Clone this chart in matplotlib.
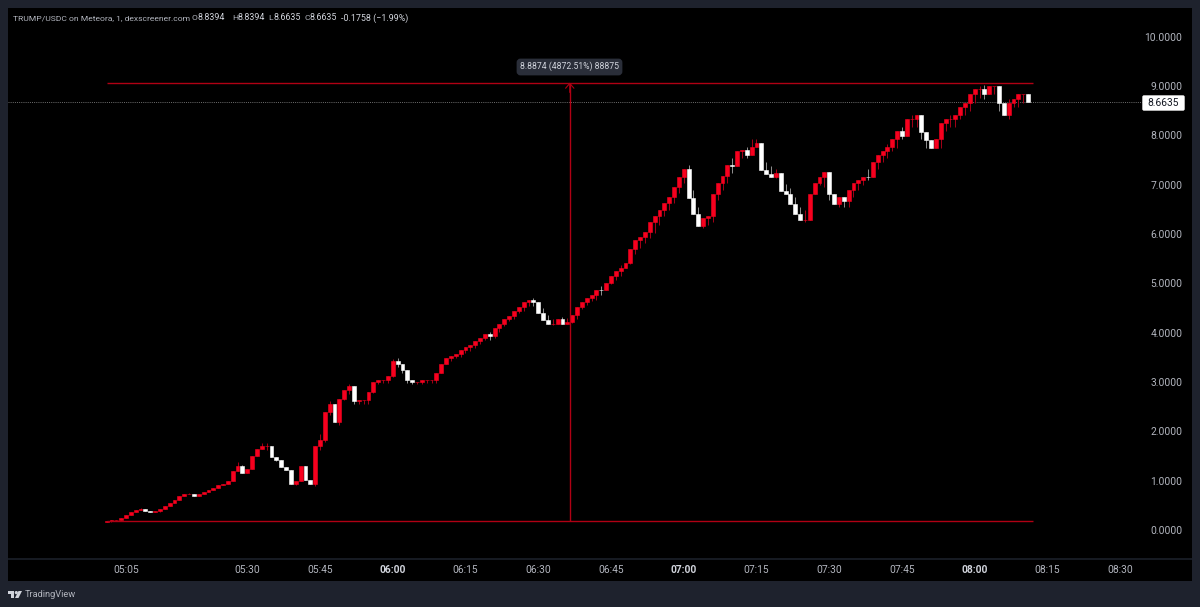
import matplotlib
matplotlib.use("Agg")
import matplotlib.pyplot as plt
from matplotlib.patches import Circle, FancyBboxPatch, Polygon, Rectangle

plt.rcParams['font.family'] = ['Roboto', 'DejaVu Sans']

first_minute = 5 * 60 + 1  # first candle is 05:01, one candle per minute

opens = [
    0.17, 0.175, 0.195, 0.21, 0.25, 0.30, 0.36, 0.41, 0.43, 0.39,
    0.37, 0.375, 0.425, 0.48, 0.54, 0.61, 0.68, 0.73, 0.735, 0.69,
    0.73, 0.775, 0.82, 0.855, 0.915, 0.935, 0.99, 1.20, 1.30, 1.16,
    1.24, 1.50, 1.64, 1.70, 1.71, 1.47, 1.42, 1.28, 1.21, 0.93,
    0.99, 1.30, 1.02, 0.93, 1.71, 1.83, 2.385, 2.56, 2.195, 2.66,
    2.83, 2.91, 2.61, 2.63, 2.63, 2.79, 3.0, 3.04, 3.045, 3.13,
    3.425, 3.36, 3.25, 3.03, 3.0, 3.005, 3.03, 3.035, 3.04, 3.19,
    3.36, 3.49, 3.53, 3.56, 3.64, 3.71, 3.74, 3.82, 3.90, 3.97,
    3.94, 4.09, 4.175, 4.27, 4.34, 4.44, 4.52, 4.61, 4.66, 4.61,
    4.39, 4.26, 4.17, 4.175, 4.27, 4.17, 4.22, 4.35, 4.52, 4.61,
    4.71, 4.755, 4.86, 4.855, 5.0, 5.15, 5.255, 5.315, 5.42, 5.69,
    5.875, 5.93, 6.045, 6.235, 6.36, 6.485, 6.62, 6.755, 6.95, 7.16,
    7.315, 6.735, 6.41, 6.17, 6.33, 6.36, 6.815, 7.025, 7.17, 7.39,
    7.385, 7.69, 7.695, 7.6, 7.76, 7.84, 7.30, 7.22, 7.15, 7.24,
    6.87, 6.80, 6.60, 6.40, 6.28, 6.285, 6.81, 7.025, 7.16, 7.25,
    6.80, 6.605, 6.755, 6.67, 6.88, 7.025, 7.09, 7.16, 7.155, 7.45,
    7.6, 7.68, 7.76, 7.915, 8.08, 7.99, 8.32, 8.325, 8.40, 8.065,
    7.91, 7.75, 7.915, 8.24, 8.32, 8.325, 8.40, 8.58, 8.66, 8.84,
    8.93, 8.935, 8.83, 9.0, 9.005, 8.66, 8.40, 8.66, 8.74, 8.83,
    8.8394,
]
closes = [
    0.175, 0.195, 0.21, 0.25, 0.30, 0.36, 0.41, 0.43, 0.39, 0.37,
    0.375, 0.425, 0.48, 0.54, 0.61, 0.68, 0.73, 0.735, 0.69, 0.73,
    0.775, 0.82, 0.855, 0.915, 0.935, 0.99, 1.20, 1.30, 1.16, 1.24,
    1.50, 1.64, 1.70, 1.71, 1.47, 1.42, 1.28, 1.21, 0.93, 0.99,
    1.30, 1.02, 0.93, 1.71, 1.83, 2.385, 2.56, 2.195, 2.66, 2.83,
    2.91, 2.61, 2.63, 2.635, 2.79, 3.0, 3.04, 3.045, 3.13, 3.425,
    3.36, 3.25, 3.03, 3.0, 3.005, 3.03, 3.035, 3.04, 3.19, 3.36,
    3.49, 3.53, 3.56, 3.64, 3.71, 3.74, 3.82, 3.90, 3.97, 3.94,
    4.09, 4.175, 4.27, 4.34, 4.44, 4.52, 4.61, 4.66, 4.61, 4.39,
    4.26, 4.17, 4.175, 4.27, 4.17, 4.22, 4.35, 4.52, 4.61, 4.71,
    4.755, 4.86, 4.855, 5.0, 5.15, 5.255, 5.315, 5.42, 5.69, 5.875,
    5.93, 6.045, 6.235, 6.36, 6.485, 6.62, 6.755, 6.95, 7.16, 7.315,
    6.735, 6.41, 6.17, 6.33, 6.36, 6.815, 7.025, 7.17, 7.39, 7.385,
    7.69, 7.695, 7.6, 7.76, 7.84, 7.30, 7.22, 7.15, 7.24, 6.87,
    6.80, 6.60, 6.40, 6.28, 6.285, 6.81, 7.025, 7.16, 7.25, 6.80,
    6.605, 6.755, 6.67, 6.88, 7.025, 7.09, 7.16, 7.155, 7.45, 7.6,
    7.68, 7.76, 7.915, 8.08, 7.99, 8.32, 8.325, 8.40, 8.065, 7.91,
    7.75, 7.915, 8.24, 8.32, 8.325, 8.40, 8.58, 8.66, 8.84, 8.93,
    8.935, 8.83, 9.0, 9.005, 8.66, 8.40, 8.66, 8.74, 8.83, 8.8394,
    8.6635,
]
highs = [
    0.18, 0.20, 0.21, 0.25, 0.30, 0.36, 0.41, 0.45, 0.43, 0.39,
    0.375, 0.425, 0.48, 0.54, 0.61, 0.68, 0.73, 0.75, 0.735, 0.73,
    0.775, 0.82, 0.855, 0.915, 0.935, 0.99, 1.20, 1.38, 1.31, 1.24,
    1.50, 1.64, 1.77, 1.77, 1.71, 1.47, 1.42, 1.28, 1.21, 0.99,
    1.30, 1.30, 1.02, 1.71, 1.94, 2.385, 2.61, 2.56, 2.66, 2.83,
    2.95, 2.91, 2.63, 2.635, 2.79, 3.0, 3.04, 3.045, 3.13, 3.46,
    3.49, 3.36, 3.25, 3.03, 3.005, 3.03, 3.035, 3.04, 3.19, 3.36,
    3.49, 3.53, 3.56, 3.64, 3.71, 3.74, 3.82, 3.90, 3.97, 4.02,
    4.09, 4.175, 4.27, 4.34, 4.44, 4.52, 4.61, 4.66, 4.71, 4.61,
    4.49, 4.36, 4.28, 4.27, 4.31, 4.30, 4.35, 4.52, 4.61, 4.71,
    4.755, 4.86, 4.95, 5.0, 5.15, 5.255, 5.37, 5.42, 5.69, 5.875,
    5.93, 6.045, 6.235, 6.36, 6.485, 6.62, 6.755, 6.95, 7.16, 7.315,
    7.40, 6.89, 6.55, 6.33, 6.36, 6.815, 7.025, 7.17, 7.39, 7.54,
    7.69, 7.695, 7.77, 7.92, 7.92, 7.84, 7.45, 7.38, 7.31, 7.24,
    7.02, 6.94, 6.75, 6.54, 6.48, 6.81, 7.025, 7.16, 7.25, 7.25,
    6.80, 6.755, 6.755, 6.88, 7.025, 7.09, 7.16, 7.31, 7.45, 7.6,
    7.68, 7.83, 7.915, 8.08, 8.16, 8.32, 8.41, 8.40, 8.40, 8.065,
    7.91, 7.915, 8.24, 8.32, 8.41, 8.40, 8.58, 8.66, 8.84, 8.93,
    9.0, 9.02, 9.0, 9.005, 9.005, 8.66, 8.74, 8.74, 8.83, 8.8394,
    8.8394,
]
lows = [
    0.165, 0.17, 0.19, 0.205, 0.25, 0.30, 0.36, 0.41, 0.39, 0.365,
    0.365, 0.37, 0.425, 0.48, 0.54, 0.61, 0.68, 0.72, 0.685, 0.685,
    0.73, 0.775, 0.82, 0.855, 0.915, 0.935, 0.99, 1.20, 1.16, 1.16,
    1.24, 1.50, 1.64, 1.63, 1.47, 1.39, 1.28, 1.21, 0.93, 0.92,
    0.99, 1.02, 0.93, 0.90, 1.63, 1.79, 2.33, 2.195, 2.13, 2.63,
    2.76, 2.55, 2.55, 2.55, 2.55, 2.77, 2.95, 2.98, 2.97, 3.11,
    3.30, 3.19, 2.98, 2.95, 2.95, 2.95, 2.98, 2.98, 2.98, 3.19,
    3.36, 3.43, 3.48, 3.5, 3.58, 3.63, 3.68, 3.76, 3.85, 3.86,
    3.9, 4.02, 4.13, 4.24, 4.27, 4.39, 4.43, 4.54, 4.53, 4.39,
    4.26, 4.17, 4.15, 4.175, 4.17, 4.17, 4.2, 4.27, 4.48, 4.56,
    4.64, 4.67, 4.77, 4.855, 4.98, 5.07, 5.15, 5.31, 5.39, 5.59,
    5.71, 5.82, 5.92, 6.02, 6.18, 6.36, 6.48, 6.62, 6.82, 7.04,
    6.735, 6.41, 6.17, 6.11, 6.18, 6.24, 6.69, 6.89, 7.04, 7.24,
    7.385, 7.54, 7.54, 7.6, 7.76, 7.30, 7.22, 7.15, 7.13, 6.87,
    6.80, 6.60, 6.40, 6.28, 6.24, 6.28, 6.81, 6.99, 6.96, 6.69,
    6.605, 6.54, 6.54, 6.54, 6.75, 6.89, 6.99, 7.09, 7.155, 7.31,
    7.46, 7.53, 7.68, 7.75, 7.92, 7.99, 8.16, 8.16, 7.92, 7.75,
    7.75, 7.75, 7.75, 8.08, 8.16, 8.16, 8.32, 8.41, 8.49, 8.65,
    8.75, 8.74, 8.83, 8.83, 8.49, 8.40, 8.33, 8.58, 8.58, 8.66,
    8.6635,
]

price_ticks = [0, 1, 2, 3, 4, 5, 6, 7, 8, 9, 10]
time_labels = ["05:05", "05:30", "05:45", "06:00", "06:15", "06:30", "06:45",
               "07:00", "07:15", "07:30", "07:45", "08:00", "08:15", "08:30"]
bold_labels = ["06:00", "07:00", "08:00"]

last_price = 8.6635
range_low = 0.18
range_high = 9.0675
range_text = "8.8874 (4872.51%) 88875"
range_minute = first_minute + 95.5

RED = "#f7001e"
RED_WICK = "#a00016"
WHITE = "#ffffff"
WHITE_WICK = "#8c8c8c"
LINE_RED = "#b00014"
BG = "#1e222d"
LABEL = "#b2b5be"
BRIGHT = "#d1d4dc"

W, H = 1200, 607
fig = plt.figure(figsize=(W / 100, H / 100), dpi=100, facecolor=BG)

# black pane incl. time axis
fig.add_artist(Rectangle((8 / W, 1 - 581 / H), 1184 / W, 573 / H, transform=fig.transFigure,
                         facecolor="black", edgecolor="none", zorder=-1))

ax = fig.add_axes([8 / W, 1 - 559 / H, 1184 / W, 551 / H], facecolor="none")
ax.set_xlim(280.67, 524.8)
ax.set_ylim(-0.588, 10.578)
for s in ax.spines.values():
    s.set_visible(False)
ax.spines['bottom'].set_visible(True)
ax.spines['bottom'].set_color(BG)
ax.spines['bottom'].set_linewidth(1.1)

minutes = [first_minute + i for i in range(len(closes))]
up = [c >= o for o, c in zip(opens, closes)]

ax.vlines(minutes, lows, highs, colors=[RED_WICK if u else WHITE_WICK for u in up],
          linewidth=0.72, zorder=2)
ax.bar(minutes, [c - o for o, c in zip(opens, closes)], bottom=opens, width=0.8,
       color=[RED if u else WHITE for u in up],
       edgecolor=[RED if u else WHITE for u in up], linewidth=0.4, zorder=3)

# measure tool
ax.hlines([range_low, range_high], first_minute, first_minute + 191, colors=LINE_RED, linewidth=1.0, zorder=4)
ax.vlines(range_minute, range_low, range_high, colors=LINE_RED, linewidth=1.0, zorder=4)
ax.annotate("", xy=(range_minute, range_high), xytext=(range_minute, range_high - 0.2),
            arrowprops=dict(arrowstyle="->,head_length=0.35,head_width=0.3", color=LINE_RED, lw=0.8,
                            mutation_scale=10, shrinkA=0, shrinkB=0), zorder=4)

# last price line
ax.axhline(last_price, xmax=(1142 - 8) / 1184, color="#6f6f6f", linewidth=0.7, linestyle=(0, (1, 1.2)), zorder=1)

ax.yaxis.tick_right()
ax.set_yticks(price_ticks)
ax.set_yticklabels([f"{p:.4f}" for p in price_ticks], ha="right")
ax.tick_params(axis='y', length=0, pad=-7, labelsize=7.4, labelcolor=LABEL)
ax.set_xticks([int(t[:2]) * 60 + int(t[3:]) for t in time_labels])
ax.set_xticklabels(time_labels)
ax.tick_params(axis='x', length=0, pad=4.5, labelsize=7.4, labelcolor=LABEL)
for tl in ax.get_xticklabels():
    if tl.get_text() in bold_labels:
        tl.set_fontweight('bold')
        tl.set_color(BRIGHT)

# overlay in pixel coordinates for header, boxes, logo
top = fig.add_axes([0, 0, 1, 1], facecolor="none")
top.set_xlim(0, W)
top.set_ylim(H, 0)
top.axis("off")

top.text(13, 18, "TRUMP/USDC on Meteora, 1, dexscreener.com", color=LABEL, fontsize=6.1, va="center")
for x, s in [(191.5, "O"), (232.5, "H"), (268.5, "L"), (304.5, "C")]:
    top.text(x, 18, s, color=LABEL, fontsize=6.1, va="center")
for x, s in [(197, "8.8394"), (237, "8.8394"), (273, "8.6635"), (309, "8.6635"), (341, "-0.1758 (\u22121.99%)")]:
    top.text(x, 18, s, color=BRIGHT, fontsize=6.4, va="center")

top.add_patch(FancyBboxPatch((518, 60), 103, 14, boxstyle="round,pad=0,rounding_size=2.5",
                             facecolor="#2a2e39", edgecolor="#2a2e39", linewidth=2))
top.text(569.5, 66.5, range_text, color=BRIGHT, fontsize=6.2, ha="center", va="center")

top.add_patch(FancyBboxPatch((1143, 96), 41, 14, boxstyle="round,pad=0,rounding_size=1",
                             facecolor="white", edgecolor="white", linewidth=1))
top.text(1163.5, 103, f"{last_price:.4f}", color="#131722", fontsize=7.4, ha="center", va="center")

# logo
top.add_patch(Polygon([(7.5, 591), (14, 591), (14, 598), (11, 598), (11, 594), (7.5, 594)], facecolor=BRIGHT, edgecolor="none"))
top.add_patch(Circle((16.3, 592.6), 1.6, facecolor=BRIGHT, edgecolor="none"))
top.add_patch(Polygon([(18.5, 591), (22, 591), (18.5, 598), (15, 598)], facecolor=BRIGHT, edgecolor="none"))
top.text(24.5, 594.5, "TradingView", color=LABEL, fontsize=6.7, va="center")

fig.savefig("out.png", dpi=100, facecolor=BG)
